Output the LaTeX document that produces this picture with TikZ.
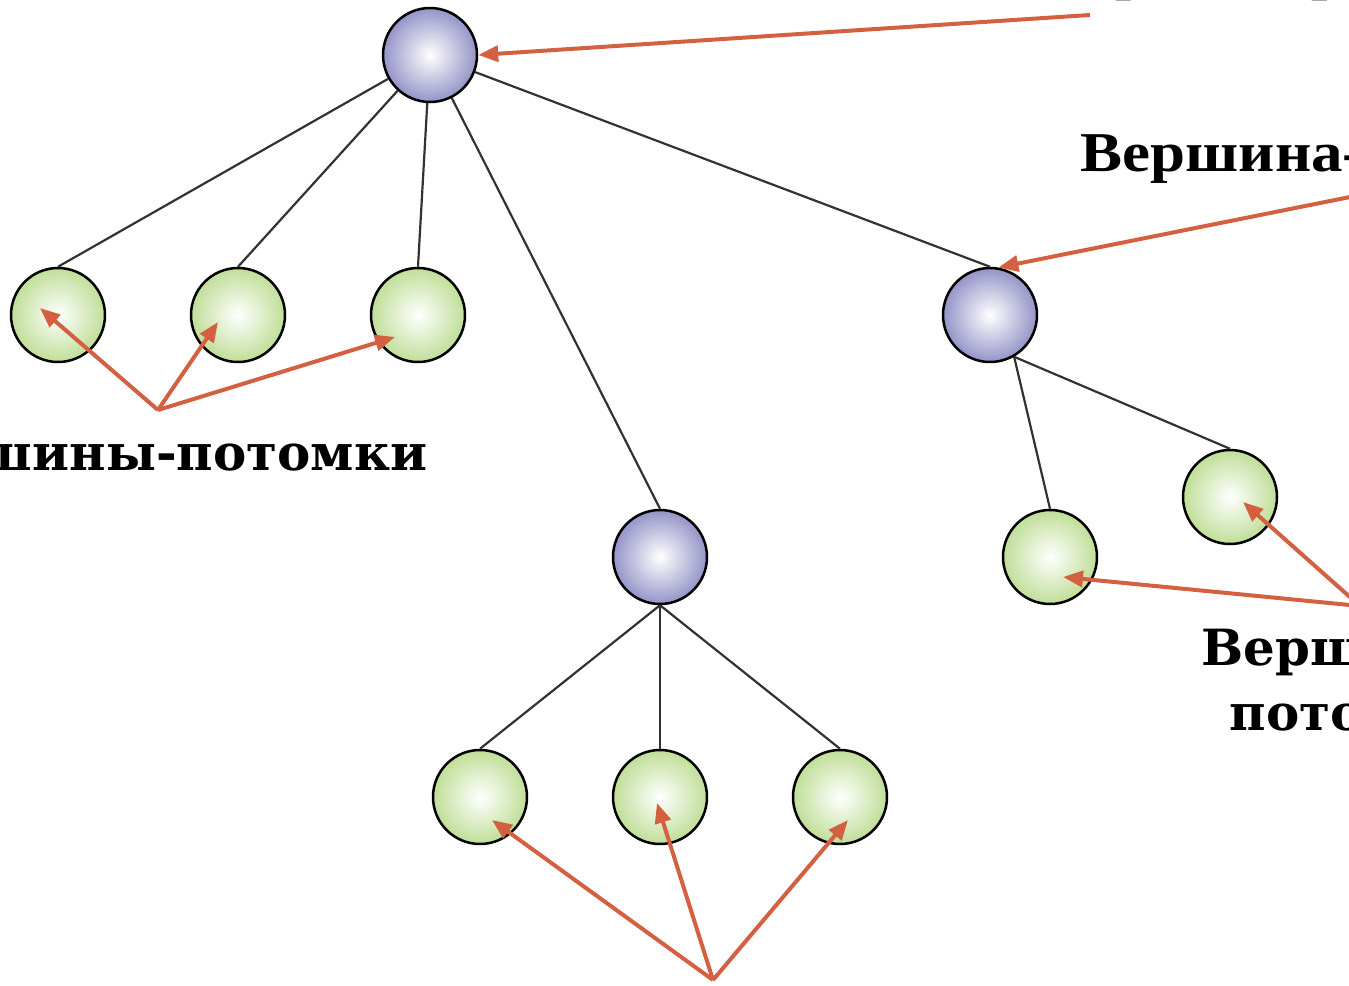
\documentclass[tikz,border=0pt]{standalone}
\usepackage{fontspec}
\setmainfont{Liberation Serif}
\newfontfamily\widefont[FakeStretch=1.12]{Liberation Serif}
\newfontfamily\plainheavy{DejaVu Serif}
\usetikzlibrary{arrows.meta, calc}

\definecolor{arrowred}{RGB}{212,96,66}
\definecolor{lilac}{RGB}{148,148,200}
\definecolor{sprout}{RGB}{192,222,152}
\definecolor{linkgray}{RGB}{50,50,50}

\begin{document}
\begin{tikzpicture}[
  x=0.1mm, y=-0.1mm,
  vertex/.style = {
    circle,
    draw=black,
    line width=0.25mm,
    minimum size=9.4mm,
    inner sep=0pt,
    shading=radial,
    inner color=white
  },
  parentnode/.style = {vertex, outer color=lilac},
  childnode/.style = {vertex, outer color=sprout},
  link/.style = {draw=linkgray, line width=0.22mm},
  pointer/.style = {-{Triangle[length=2mm, width=1.6mm]}, arrowred, line width=0.4mm},
  lbl/.style = {inner sep=0pt, font=\bfseries\fontsize{16.5}{20}\selectfont},
  widelbl/.style = {inner sep=0pt, font=\widefont\bfseries\fontsize{16}{20}\selectfont},
  heavylbl/.style = {inner sep=0pt, font=\plainheavy\bfseries\fontsize{14.2}{17}\selectfont}
]
\clip (0,0) rectangle (1349,986);

% Tree: root and the two inner vertices
\node[parentnode] (root) at (430,55) {};
\node[parentnode] (par) at (990,315) {};
\node[parentnode] (mid) at (660,557) {};

% Leaves under the root
\node[childnode] (l1) at (58,315) {};
\node[childnode] (l2) at (238,315) {};
\node[childnode] (l3) at (418,315) {};

% Leaves under the right vertex
\node[childnode] (r1) at (1050,557) {};
\node[childnode] (r2) at (1230,497) {};

% Leaves under the middle vertex
\node[childnode] (b1) at (480,797) {};
\node[childnode] (b2) at (660,797) {};
\node[childnode] (b3) at (840,797) {};

% === EDGES (parent to top of child) ===
\foreach \n in {l1, l2, l3, mid, par}
  \draw[link] (root) -- (\n.north);
\draw[link] (par.-60) -- (r1.north);
\draw[link] (par.-60) -- (r2.north);
\foreach \n in {b1, b2, b3}
  \draw[link] (mid.south) -- (\n.north);

% === LABELS ===
\node[lbl, anchor=base west] (toptext) at (1050,-12) {Вершина-родитель};
\node[widelbl, anchor=base west] (sidetext) at (1080,171) {Вершина-родитель};
\node[heavylbl, anchor=base east] (lefttext) at (428,470) {Вершины-потомки};
\node[heavylbl, anchor=base] (brtext) at (1355,665) {Вершины-};
\node[heavylbl, anchor=base] (brtextb) at (1355,730) {потомки};

% === POINTERS ===
\coordinate (fromtop) at (1090,15);
\coordinate (fromside) at (1360,195);
\coordinate (fromleft) at (158,410);
\coordinate (fromright) at (1360,606);
\coordinate (frombottom) at (713,980);

\draw[pointer] (fromtop) -- (root.east);
\draw[pointer] (fromside) -- (par.80);

\draw[pointer] (fromleft) -- ($(l1)+(-18,-7)$);
\draw[pointer] (fromleft) -- ($(l2)+(-20,7)$);
\draw[pointer] (fromleft) -- ($(l3)+(-23,22)$);

\draw[pointer] (fromright) -- ($(r1)+(13,20)$);
\draw[pointer] (fromright) -- ($(r2)+(13,5)$);

\draw[pointer] (frombottom) -- ($(b1)+(12,23)$);
\draw[pointer] (frombottom) -- ($(b2)+(-3,6)$);
\draw[pointer] (frombottom) -- ($(b3)+(8,23)$);

\end{tikzpicture}
\end{document}
